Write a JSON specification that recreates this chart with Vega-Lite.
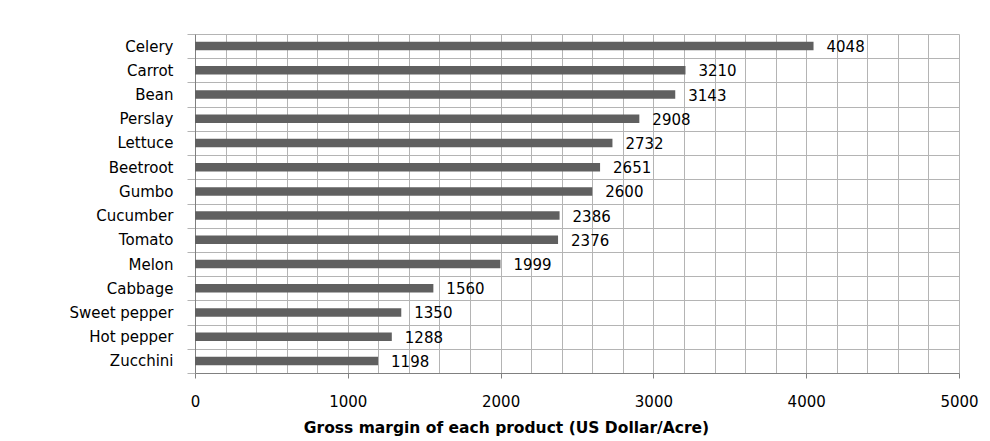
{
  "$schema": "https://vega.github.io/schema/vega-lite/v6.json",
  "width": 764,
  "height": 339,
  "autosize": {"type": "none"},
  "padding": {"left": 195, "top": 34, "right": 31, "bottom": 68},
  "background": "white",
  "config": {"view": {"stroke": null}},
  "data": {
    "values": [
      {"product": "Celery", "margin": 4048},
      {"product": "Carrot", "margin": 3210},
      {"product": "Bean", "margin": 3143},
      {"product": "Perslay", "margin": 2908},
      {"product": "Lettuce", "margin": 2732},
      {"product": "Beetroot", "margin": 2651},
      {"product": "Gumbo", "margin": 2600},
      {"product": "Cucumber", "margin": 2386},
      {"product": "Tomato", "margin": 2376},
      {"product": "Melon", "margin": 1999},
      {"product": "Cabbage", "margin": 1560},
      {"product": "Sweet pepper", "margin": 1350},
      {"product": "Hot pepper", "margin": 1288},
      {"product": "Zucchini", "margin": 1198}
    ]
  },
  "encoding": {
    "y": {
      "field": "product",
      "type": "nominal",
      "sort": null,
      "scale": {"paddingInner": 0, "paddingOuter": 0},
      "axis": {
        "title": null,
        "tickBand": "extent",
        "grid": true,
        "gridColor": "#b4b4b4",
        "gridWidth": 1,
        "domainColor": "#808080",
        "tickColor": "#b4b4b4",
        "tickSize": 8,
        "labelPadding": 14,
        "labelFont": "DejaVu Sans",
        "labelFontSize": 15,
        "labelColor": "#000000"
      }
    },
    "x": {
      "field": "margin",
      "type": "quantitative",
      "scale": {"domain": [0, 5000], "nice": false},
      "axis": {
        "values": [0, 200, 400, 600, 800, 1000, 1200, 1400, 1600, 1800, 2000, 2200, 2400, 2600, 2800, 3000, 3200, 3400, 3600, 3800, 4000, 4200, 4400, 4600, 4800, 5000],
        "labelExpr": "datum.value % 1000 === 0 ? datum.label : ''",
        "format": "d",
        "labelOverlap": false,
        "labelFlush": false,
        "grid": true,
        "gridColor": "#b4b4b4",
        "domainColor": "#808080",
        "tickColor": "#808080",
        "tickOpacity": {"condition": {"test": "datum.value % 1000 === 0", "value": 1}, "value": 0},
        "tickSize": 5,
        "labelPadding": 16,
        "labelFont": "DejaVu Sans",
        "labelFontSize": 15,
        "labelColor": "#000000",
        "title": "Gross margin of each product (US Dollar/Acre)",
        "titleFont": "DejaVu Sans",
        "titleFontSize": 15.5,
        "titleFontWeight": "bold",
        "titleColor": "#000000",
        "titleX": 311,
        "titlePadding": 11
      }
    }
  },
  "layer": [
    {"mark": {"type": "bar", "color": "#606060", "size": 8.5}},
    {
      "mark": {"type": "text", "align": "left", "baseline": "middle", "dx": 13, "dy": 1, "font": "DejaVu Sans", "fontSize": 15, "color": "#000000"},
      "encoding": {"text": {"field": "margin", "type": "quantitative", "format": "d"}}
    }
  ]
}
